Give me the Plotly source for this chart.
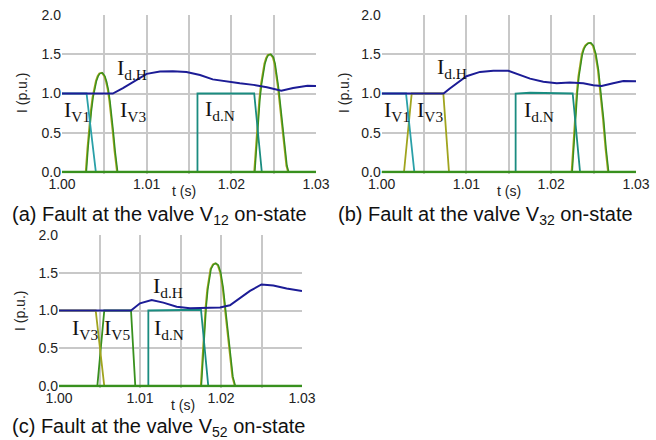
import plotly.graph_objects as go

# ---------------- data (a) ----------------
a_idh_t = [1.0, 1.0033, 1.0060, 1.0072, 1.0084, 1.0100, 1.01157, 1.0131, 1.0147, 1.0163, 1.0178, 1.0195, 1.0210, 1.0226, 1.0242, 1.0259, 1.0273, 1.0290, 1.0300]
a_idh_y = [1.0, 1.0, 1.0, 1.07, 1.15, 1.25, 1.28, 1.285, 1.275, 1.235, 1.18, 1.15, 1.13, 1.11, 1.08, 1.036, 1.07, 1.10, 1.095]
a_iv1_t = [1.0, 1.0029, 1.0040, 1.0300]
a_iv1_y = [1.0, 1.0, 0.0, 0.0]
a_arc1_t = [1.0, 1.0028, 1.0030, 1.0032, 1.0034, 1.0036, 1.0038, 1.0040, 1.0042, 1.0044, 1.0047, 1.0050, 1.0052, 1.0054, 1.0056, 1.0058, 1.0060, 1.0062, 1.0064, 1.0065, 1.0300]
a_arc1_y = [0.0, 0.0, 0.30, 0.56, 0.78, 0.95, 1.07, 1.16, 1.22, 1.255, 1.265, 1.22, 1.15, 1.05, 0.90, 0.72, 0.50, 0.27, 0.05, 0.0, 0.0]
a_idn_t = [1.0, 1.0160, 1.0160, 1.0227, 1.0236, 1.0300]
a_idn_y = [0.0, 0.0, 1.0, 1.0, 0.0, 0.0]
a_arc2_t = [1.0227, 1.0229, 1.0231, 1.0233, 1.0235, 1.0237, 1.0239, 1.0241, 1.0243, 1.0246, 1.0249, 1.0251, 1.0253, 1.0255, 1.0257, 1.0259, 1.0261, 1.0263, 1.0265, 1.0267]
a_arc2_y = [0.0, 0.35, 0.65, 0.92, 1.12, 1.27, 1.38, 1.45, 1.49, 1.50, 1.46, 1.38, 1.25, 1.08, 0.88, 0.66, 0.44, 0.24, 0.08, 0.0]

# ---------------- data (b) ----------------
b_idh_t = [1.0, 1.0073, 1.0080, 1.00885, 1.0100, 1.0116, 1.01317, 1.01494, 1.01593, 1.0175, 1.01906, 1.02065, 1.0222, 1.02378, 1.02496, 1.02595, 1.0273, 1.0285, 1.0300]
b_idh_y = [1.0, 1.0, 1.06, 1.13, 1.22, 1.275, 1.29, 1.29, 1.255, 1.19, 1.15, 1.13, 1.14, 1.13, 1.105, 1.095, 1.13, 1.16, 1.155]
b_iv1_t = [1.0, 1.00287, 1.00385, 1.0300]
b_iv1_y = [1.0, 1.0, 0.0, 0.0]
b_iv3_t = [1.0, 1.00263, 1.00354, 1.00727, 1.00794, 1.0300]
b_iv3_y = [0.0, 0.0, 1.0, 1.0, 0.0, 0.0]
b_idn_t = [1.0, 1.0158, 1.0158, 1.0175, 1.02253, 1.0234, 1.0300]
b_idn_y = [0.0, 0.0, 1.0, 1.01, 1.0, 0.0, 0.0]
b_arc_t = [1.0224, 1.0226, 1.0228, 1.0230, 1.0232, 1.0234, 1.0236, 1.0238, 1.0240, 1.0243, 1.0246, 1.0249, 1.0252, 1.0255, 1.0258, 1.0261, 1.0264, 1.0267]
b_arc_y = [0.0, 0.38, 0.72, 1.00, 1.22, 1.39, 1.50, 1.57, 1.61, 1.64, 1.645, 1.61, 1.50, 1.30, 1.02, 0.68, 0.30, 0.0]

# ---------------- data (c) ----------------
c_idh_t = [1.0, 1.00889, 1.0100, 1.01144, 1.01288, 1.01453, 1.01617, 1.01823, 1.01988, 1.0211, 1.02235, 1.02358, 1.0250, 1.02646, 1.0281, 1.0300]
c_idh_y = [1.0, 1.0, 1.095, 1.139, 1.104, 1.05, 1.03, 1.03, 1.04, 1.07, 1.16, 1.26, 1.345, 1.33, 1.29, 1.258]
c_iv3_t = [1.0, 1.00453, 1.00559, 1.0300]
c_iv3_y = [1.0, 1.0, 0.0, 0.0]
c_iv5_t = [1.0, 1.00473, 1.00559, 1.00889, 1.00942, 1.0300]
c_iv5_y = [0.0, 0.0, 1.0, 1.0, 0.0, 0.0]
c_idn_t = [1.0, 1.01103, 1.01103, 1.01753, 1.01843, 1.0300]
c_idn_y = [0.0, 0.0, 1.0, 1.01, 0.0, 0.0]
c_arc_t = [1.0175, 1.0177, 1.0179, 1.0181, 1.0183, 1.0185, 1.0187, 1.0190, 1.0193, 1.0196, 1.0199, 1.0202, 1.0205, 1.0208, 1.0211, 1.0214, 1.0217]
c_arc_y = [0.0, 0.40, 0.75, 1.05, 1.28, 1.44, 1.55, 1.61, 1.625, 1.60, 1.50, 1.30, 1.02, 0.70, 0.38, 0.12, 0.0]

x_tickvals = [1.0, 1.005, 1.01, 1.015, 1.02, 1.025, 1.03]
x_ticktext = ["1.00", "", "1.01", "", "1.02", "", "1.03"]
y_tickvals = [0.0, 0.5, 1.0, 1.5, 2.0]
y_ticktext = ["0.0", "0.5", "1.0", "1.5", "2.0"]

captions = ["(a) Fault at the valve V<sub>12</sub> on-state",
            "(b) Fault at the valve V<sub>32</sub> on-state",
            "(c) Fault at the valve V<sub>52</sub> on-state"]

C_BLUE = "#1c1c96"
C_TEAL = "#2aa0a8"
C_TEALN = "#1a8c80"
C_OLIVE = "#a0a41e"
C_GREEN = "#38901e"

W, H = 656, 440
fig = go.Figure()

def add(t, y, color, ax, width=1.8):
    fig.add_trace(go.Scatter(x=t, y=y, mode="lines", line=dict(color=color, width=width),
                             xaxis="x" + ax, yaxis="y" + ax, showlegend=False, hoverinfo="skip"))

# (a)
add(a_arc1_t, a_arc1_y, C_OLIVE, "")
add([t + 0.00008 for t in a_arc1_t], a_arc1_y, C_GREEN, "", 1.4)
add(a_arc2_t, a_arc2_y, C_OLIVE, "")
add([t + 0.00008 for t in a_arc2_t], a_arc2_y, C_GREEN, "", 1.4)
add(a_idn_t, a_idn_y, C_TEALN, "")
add(a_iv1_t, a_iv1_y, C_TEAL, "")

# (b)
add(b_iv3_t, b_iv3_y, C_OLIVE, "2")
add(b_arc_t, b_arc_y, C_OLIVE, "2")
add([t + 0.00008 for t in b_arc_t], b_arc_y, C_GREEN, "2", 1.4)
add(b_idn_t, b_idn_y, C_TEALN, "2")
add(b_iv1_t, b_iv1_y, C_TEAL, "2")

# (c)
add(c_iv5_t, c_iv5_y, C_GREEN, "3")
add(c_iv3_t, c_iv3_y, C_OLIVE, "3")
add(c_arc_t, c_arc_y, C_OLIVE, "3")
add([t + 0.00008 for t in c_arc_t], c_arc_y, C_GREEN, "3", 1.4)
add(c_idn_t, c_idn_y, C_TEALN, "3")

# green zero baselines on top of the off-state segments, then DC currents
for ax in ["", "2", "3"]:
    add([1.0, 1.03], [0.0, 0.0], C_GREEN, ax, width=2.6)
add(a_idh_t, a_idh_y, C_BLUE, "", 2.0)
add(b_idh_t, b_idh_y, C_BLUE, "2", 2.0)
add(c_idh_t, c_idh_y, C_BLUE, "3", 2.0)

TICKFONT = dict(family="Liberation Sans, Arial", size=14, color="#222")

def xaxis(dom, anchor):
    return dict(domain=dom, anchor=anchor, range=[1.0, 1.03], tickvals=x_tickvals, ticktext=x_ticktext,
                showgrid=True, gridcolor="#c8c8c8", gridwidth=1.5, zeroline=False, showline=False,
                ticks="", ticklen=0, tickfont=TICKFONT, automargin=False)

def yaxis(dom, anchor):
    return dict(domain=dom, anchor=anchor, range=[-0.02, 2.0], tickvals=y_tickvals, ticktext=y_ticktext,
                showgrid=True, gridcolor="#c8c8c8", gridwidth=1.5, zeroline=False, showline=False,
                ticks="", ticklen=0, tickfont=TICKFONT, automargin=False)

ya_dom = [1 - 173.6 / H, 1 - 15 / H]
yc_dom = [1 - 387.5 / H, 1 - 235 / H]

fig.update_layout(
    width=W, height=H, margin=dict(l=0, r=0, t=0, b=0, autoexpand=False),
    paper_bgcolor="white", plot_bgcolor="white",
    xaxis=xaxis([62 / W, 316 / W], "y"), yaxis=yaxis(ya_dom, "x"),
    xaxis2=xaxis([381.7 / W, 636 / W], "y2"), yaxis2=yaxis(ya_dom, "x2"),
    xaxis3=xaxis([59 / W, 302 / W], "y3"), yaxis3=yaxis(yc_dom, "x3"),
)

SERIF = "Liberation Serif, Times New Roman"
labels = [
    ("", "I<sub>d.H</sub>", 1.00626, 1.31),
    ("", "I<sub>V1</sub>", 1.0000, 0.78),
    ("", "I<sub>V3</sub>", 1.0066, 0.78),
    ("", "I<sub>d.N</sub>", 1.0167, 0.79),
    ("2", "I<sub>d.H</sub>", 1.0063, 1.32),
    ("2", "I<sub>V1</sub>", 1.0000, 0.78),
    ("2", "I<sub>V3</sub>", 1.0039, 0.78),
    ("2", "I<sub>d.N</sub>", 1.0166, 0.78),
    ("3", "I<sub>d.H</sub>", 1.0113, 1.31),
    ("3", "I<sub>V3</sub>", 1.0013, 0.75),
    ("3", "I<sub>V5</sub>", 1.0053, 0.75),
    ("3", "I<sub>d.N</sub>", 1.0115, 0.75),
]
for ax, txt, xv, yv in labels:
    fig.add_annotation(x=xv, y=yv, xref="x" + ax, yref="y" + ax, text=txt, showarrow=False,
                       xanchor="left", yanchor="middle",
                       font=dict(family=SERIF, size=22, color="#111"))

AXFONT = dict(family="Liberation Sans, Arial", size=14, color="#222")
for cx, cy in [(184, 191), (509, 191), (183, 405)]:
    fig.add_annotation(x=cx / W, y=1 - cy / H, xref="paper", yref="paper", text="t (s)", showarrow=False,
                       xanchor="center", yanchor="middle", font=AXFONT)
for cx, cy in [(22, 93), (344, 93), (20, 311)]:
    fig.add_annotation(x=cx / W, y=1 - cy / H, xref="paper", yref="paper", text="I (p.u.)", showarrow=False,
                       xanchor="center", yanchor="middle", textangle=-90, font=AXFONT)

cap_pos = [(10, 215), (336, 215), (10, 427)]
for (cx, cy), txt in zip(cap_pos, captions):
    fig.add_annotation(x=cx / W, y=1 - cy / H, xref="paper", yref="paper", text=txt, showarrow=False,
                       xanchor="left", yanchor="middle",
                       font=dict(family="Liberation Sans, Arial", size=20, color="#111"))

fig.write_html("out.html", config={"displayModeBar": False},
               post_script="document.body.style.margin='0';document.body.style.padding='0';document.body.style.overflow='hidden';")
